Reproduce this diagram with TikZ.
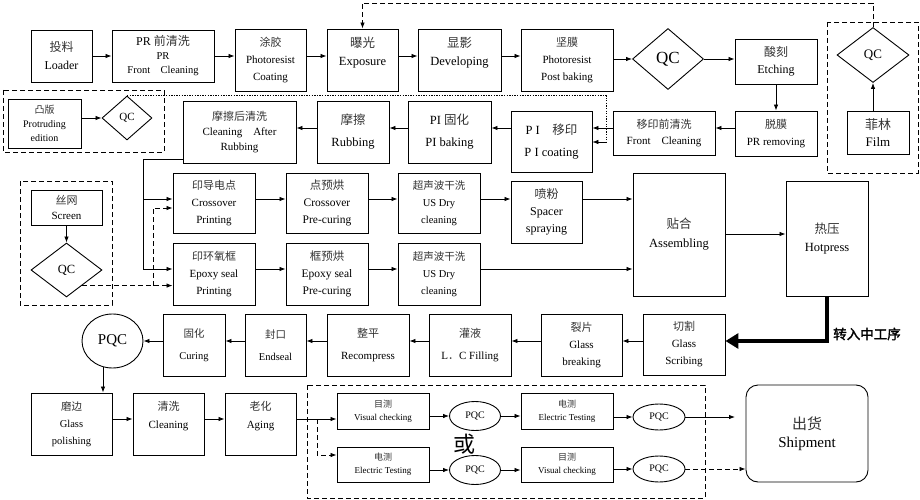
\documentclass[tikz,border=0pt]{standalone}
\usepackage{fontspec}
\setmainfont{Liberation Serif}
\newfontfamily\cjk{Noto Sans CJK SC}
\newfontfamily\cjkb[FakeBold=2]{Noto Sans CJK SC}
\usetikzlibrary{shapes.geometric,arrows.meta,calc}
\newcommand\zh[1]{{\cjk\color{black!80}#1}}
\newcommand\fs[2]{\fontsize{#1}{#2}\selectfont}
\begin{document}
\begin{tikzpicture}[x=1pt,y=-1pt,
  bx/.style={draw, line width=0.9pt, inner sep=1pt, align=center, font=\fs{11}{17}},
  dia/.style={draw, diamond, line width=0.9pt, inner sep=0pt},
  ell/.style={draw, ellipse, line width=0.9pt, inner sep=0pt},
  arr/.style={-{Latex[length=6pt,width=4.5pt]}, line width=0.85pt},
  dsh/.style={dash pattern=on 5pt off 3pt, line width=0.85pt},
  dotl/.style={dash pattern=on 1.3pt off 1.3pt, line width=0.6pt},
  thickarr/.style={-{Triangle[length=13pt,width=15pt]}, line width=4.5pt}
]
\useasboundingbox (0,0) rectangle (920,500);
\fill[white] (0,0) rectangle (920,500);

% ---- group frames
\draw[dsh] (827,22) rectangle (918,173);
\draw[dsh] (3,90) rectangle (164,152);
\draw[dsh] (20,181) rectangle (112,305);
\draw[dsh] (307,385) rectangle (705,498);

% ---- row 1
\node[bx, minimum width=61, minimum height=52, font=\fs{12}{18}] (load) at (61.5,56) {\zh{投料}\\Loader};
\node[bx, minimum width=102, minimum height=52, font=\fs{10.5}{14}] (prfc) at (163,56) {{\fs{12}{14}PR \zh{前清洗}}\\PR\\Front\quad Cleaning};
\node[bx, minimum width=71, minimum height=62, font=\fs{11}{17}] (coat) at (270.5,60) {\zh{涂胶}\\Photoresist\\Coating};
\node[bx, minimum width=71, minimum height=62, font=\fs{12.5}{18}] (expo) at (362.5,60) {\zh{曝光}\\Exposure\\\mbox{}};
\node[bx, minimum width=83, minimum height=62, font=\fs{12.5}{18}] (dev) at (459.5,60) {\zh{显影}\\Developing\\\mbox{}};
\node[bx, minimum width=92, minimum height=62, font=\fs{11}{17}] (post) at (567,60) {\zh{坚膜}\\Photoresist\\Post baking};
\node[dia, minimum width=71, minimum height=61, font=\fs{17}{20}] (qc1) at (668,59) {QC};
\node[bx, minimum width=82, minimum height=45, font=\fs{12}{17}] (etch) at (776,61.5) {\zh{酸刻}\\Etching};
\node[dia, minimum width=72, minimum height=55, font=\fs{13}{16}] (fqc) at (873,55) {QC};
\node[bx, minimum width=62, minimum height=43, font=\fs{13}{17}] (film) at (878,132.5) {\zh{菲林}\\Film};

% ---- row 2
\node[bx, minimum width=82, minimum height=45, font=\fs{11}{17}] (prrem) at (776,133.5) {\zh{脱膜}\\PR removing};
\node[bx, minimum width=102, minimum height=44, font=\fs{11}{16}] (fclean) at (664,133) {\zh{移印前清洗}\\Front\quad Cleaning};
\node[bx, minimum width=81, minimum height=61, font=\fs{12.5}{22}] (pic) at (551.5,141.5) {P I\quad \zh{移印}\\P I coating};
\node[bx, minimum width=83, minimum height=62, font=\fs{12.5}{22}] (pib) at (449.5,132) {PI \zh{固化}\\PI baking};
\node[bx, minimum width=72, minimum height=62, font=\fs{12.5}{22}] (rub) at (353,132) {\zh{摩擦}\\Rubbing};
\node[bx, minimum width=113, minimum height=62, font=\fs{11}{15}] (car) at (239.5,132) {\zh{摩擦后清洗}\\Cleaning\quad After\\Rubbing};
\node[bx, minimum width=73, minimum height=49, font=\fs{10}{14}] (tuban) at (44.5,123.5) {\zh{凸版}\\Protruding\\edition};
\node[dia, minimum width=50, minimum height=44, font=\fs{11}{13}] (qc2) at (127,118) {QC};

% ---- row 3
\node[bx, minimum width=71, minimum height=35, font=\fs{11}{15}] (screen) at (66.5,207.5) {\zh{丝网}\\Screen};
\node[dia, minimum width=71, minimum height=54, font=\fs{12.5}{15}] (qc3) at (66.5,270) {QC};
\node[bx, minimum width=82, minimum height=60, font=\fs{11}{17}] (cpr) at (214,203) {\zh{印导电点}\\Crossover\\Printing};
\node[bx, minimum width=82, minimum height=62, font=\fs{11}{17}] (epr) at (214,274) {\zh{印环氧框}\\Epoxy seal\\Printing};
\node[bx, minimum width=82, minimum height=60, font=\fs{11.5}{17}] (cpc) at (327,203) {\zh{点预烘}\\Crossover\\Pre-curing};
\node[bx, minimum width=82, minimum height=62, font=\fs{11.5}{17}] (epc) at (327,274) {\zh{框预烘}\\Epoxy seal\\Pre-curing};
\node[bx, minimum width=82, minimum height=60, font=\fs{10.5}{17}] (us1) at (439,203) {\zh{超声波干洗}\\US Dry\\cleaning};
\node[bx, minimum width=82, minimum height=62, font=\fs{10.5}{17}] (us2) at (439,274) {\zh{超声波干洗}\\US Dry\\cleaning};
\node[bx, minimum width=71, minimum height=62, font=\fs{12}{17}] (spray) at (546.5,212) {\zh{喷粉}\\Spacer\\spraying};
\node[bx, minimum width=92, minimum height=123, font=\fs{12.5}{19}] (asm) at (679,234.5) {\zh{贴合}\\Assembling};
\node[bx, minimum width=82, minimum height=115, font=\fs{12.5}{18}] (hot) at (827,238.5) {\zh{热压}\\Hotpress};

% ---- row 4
\node[bx, minimum width=82, minimum height=61, font=\fs{11}{17}] (scribe) at (684,344.5) {\zh{切割}\\Glass\\Scribing};
\node[bx, minimum width=81, minimum height=62, font=\fs{11}{17}] (gbreak) at (581.5,345) {\zh{裂片}\\Glass\\breaking};
\node[bx, minimum width=82, minimum height=62, font=\fs{11}{22}] (lcf) at (470,345) {\zh{灌液}\\L\zh{．}C Filling};
\node[bx, minimum width=82, minimum height=62, font=\fs{11}{22}] (recomp) at (368,345) {\zh{整平}\\Recompress};
\node[bx, minimum width=61, minimum height=62, font=\fs{10.5}{22}] (endseal) at (275.5,345) {\zh{封口}\\Endseal};
\node[bx, minimum width=62, minimum height=62, font=\fs{10.5}{22}] (curing) at (194,345) {\zh{固化}\\Curing};
\node[ell, minimum width=61, minimum height=54, font=\fs{15}{18}] (pqc1) at (112.5,341) {PQC};

% ---- row 5
\node[bx, minimum width=81, minimum height=62, font=\fs{10.5}{17}] (gpol) at (71.5,424) {\zh{磨边}\\Glass\\polishing};
\node[bx, minimum width=71, minimum height=62, font=\fs{11}{18}] (clean) at (168.5,424) {\zh{清洗}\\Cleaning\\\mbox{}};
\node[bx, minimum width=71, minimum height=62, font=\fs{11}{18}] (aging) at (260.5,424) {\zh{老化}\\Aging\\\mbox{}};
\node[bx, minimum width=92, minimum height=36, font=\fs{9}{13}] (vc1) at (383,411) {\zh{目测}\\Visual checking};
\node[ell, minimum width=51, minimum height=29, font=\fs{10}{12}] (pqcA) at (475,416) {PQC};
\node[bx, minimum width=92, minimum height=36, font=\fs{9}{13}] (et1) at (567,411) {\zh{电测}\\Electric Testing};
\node[ell, minimum width=52, minimum height=26, font=\fs{10}{12}] (pqcB) at (659,417) {PQC};
\node[bx, minimum width=92, minimum height=35, font=\fs{9}{13}] (et2) at (383,464.5) {\zh{电测}\\Electric Testing};
\node[ell, minimum width=51, minimum height=29, font=\fs{10}{12}] (pqcC) at (475,470) {PQC};
\node[bx, minimum width=92, minimum height=35, font=\fs{9}{13}] (vc2) at (567,464.5) {\zh{目测}\\Visual checking};
\node[ell, minimum width=52, minimum height=26, font=\fs{10}{12}] (pqcD) at (659,469) {PQC};
\node[bx, rounded corners=12pt, minimum width=122, minimum height=97, font=\fs{15}{18}] (ship) at (807,433.5) {\zh{出货}\\Shipment};
\node[font=\fs{22}{24}\cjk] (huo) at (464,444) {或};
\node[font=\fs{13.5}{16}\cjkb] (zr) at (867,334) {转入中工序};

% ---- connectors row 1
\draw[arr] (load.east) -- (load.east -| prfc.west);
\draw[arr] (prfc.east) -- (prfc.east -| coat.west);
\draw[arr] (coat.east |- 0,56) -- (expo.west |- 0,56);
\draw[arr] (expo.east |- 0,56) -- (dev.west |- 0,56);
\draw[arr] (dev.east |- 0,56) -- (post.west |- 0,56);
\draw[arr] (post.east |- qc1.west) -- (qc1.west);
\draw[arr] (qc1.east) -- (qc1.east -| etch.west);
\draw[arr] (etch.south) -- (prrem.north);
\draw[arr] (film.north -| fqc.south) -- (fqc.south);
\coordinate (topc) at (873,3);
\draw[dsh] (fqc.north) -- (topc);
\draw[dsh, arr] (topc) -| (expo.north);

% ---- connectors row 2
\draw[arr] (prrem.west |- 0,128) -- (fclean.east |- 0,128);
\draw[arr] (fclean.west |- 0,128) -- (pic.east |- 0,128);
\draw[arr] (pic.west |- 0,128) -- (pib.east |- 0,128);
\draw[arr] (pib.west |- 0,128) -- (rub.east |- 0,128);
\draw[arr] (rub.west |- 0,128) -- (car.east |- 0,128);
\draw[arr] (tuban.east |- qc2.west) -- (qc2.west);
\coordinate (dotc) at (606,142);
\draw[dotl] (qc2.north) -| (dotc);
\draw[arr, line width=0.6pt] (dotc) -- (pic.east |- dotc);

% ---- connectors row 3
\coordinate (lb1) at (143,159);
\coordinate (lb2) at (143,199);
\coordinate (lb3) at (143,269);
\draw[line width=0.85pt] (car.west |- lb1) -- (lb1) -- (lb3);
\draw[arr] (lb2) -- (cpr.west |- lb2);
\draw[arr] (lb3) -- (epr.west |- lb3);
\draw[arr] (screen.south) -- (qc3.north);
\coordinate (db1) at (153,208);
\draw[dsh, arr] (qc3.-45) -- (qc3.-45 -| epr.west);
\draw[dsh, arr] (qc3.-45 -| db1) -- (db1) -- (cpr.west |- db1);
\draw[arr] (cpr.east |- 0,199) -- (cpc.west |- 0,199);
\draw[arr] (cpc.east |- 0,199) -- (us1.west |- 0,199);
\draw[arr] (us1.east |- 0,199) -- (spray.west |- 0,199);
\draw[arr] (spray.east |- 0,199) -- (asm.west |- 0,199);
\draw[arr] (epr.east |- 0,269) -- (epc.west |- 0,269);
\draw[arr] (epc.east |- 0,269) -- (us2.west |- 0,269);
\draw[arr] (us2.east |- 0,269) -- (asm.west |- 0,269);
\draw[arr] (asm.east |- 0,234) -- (hot.west |- 0,234);
\draw[thickarr] (hot.south) |- (scribe.east |- 0,341);

% ---- connectors row 4
\draw[arr] (scribe.west |- 0,341) -- (gbreak.east |- 0,341);
\draw[arr] (gbreak.west |- 0,341) -- (lcf.east |- 0,341);
\draw[arr] (lcf.west |- 0,341) -- (recomp.east |- 0,341);
\draw[arr] (recomp.west |- 0,341) -- (endseal.east |- 0,341);
\draw[arr] (endseal.west |- 0,341) -- (curing.east |- 0,341);
\draw[arr] (curing.west |- pqc1.east) -- (pqc1.east);
\draw[arr] (pqc1.250) -- (pqc1.250 |- gpol.north);

% ---- connectors row 5
\draw[arr] (gpol.east |- 0,419) -- (clean.west |- 0,419);
\draw[arr] (clean.east |- 0,419) -- (aging.west |- 0,419);
\coordinate (tb) at (317,419);
\draw[arr] (aging.east |- tb) -- (vc1.west |- tb);
\draw[dsh, arr] (tb) |- (et2.west |- 0,455);
\draw[arr] (vc1.east |- pqcA.west) -- (pqcA.west);
\draw[arr] (pqcA.east) -- (pqcA.east -| et1.west);
\draw[arr] (et1.east |- pqcB.west) -- (pqcB.west);
\coordinate (sh1) at (735,417);
\draw[arr] (pqcB.east) -- (sh1);
\draw[arr] (et2.east |- pqcC.west) -- (pqcC.west);
\draw[arr] (pqcC.east) -- (pqcC.east -| vc2.west);
\draw[arr] (vc2.east |- pqcD.west) -- (pqcD.west);
\draw[dsh, arr] (pqcD.east) -- (pqcD.east -| ship.west);
\end{tikzpicture}
\end{document}
